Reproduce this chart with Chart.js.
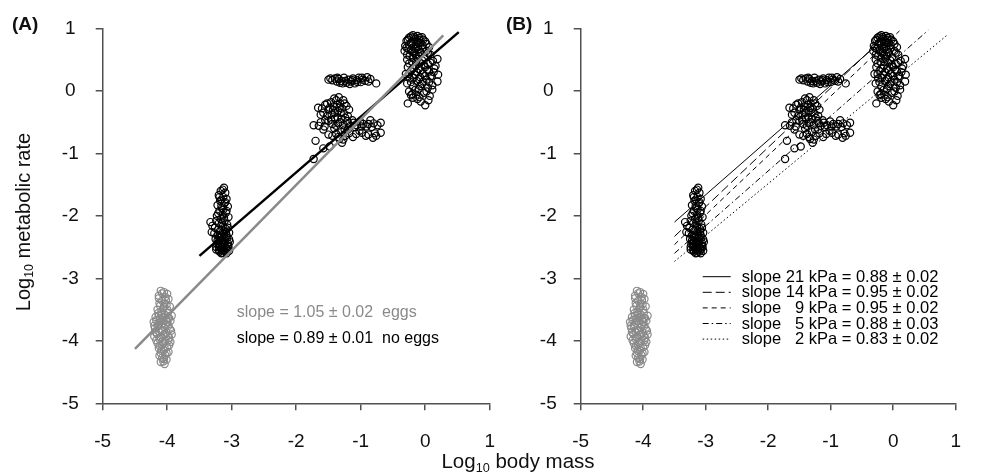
<!DOCTYPE html>
<html lang="en">
<head>
<meta charset="UTF-8">
<title>Log10 metabolic rate vs body mass</title>
<script src="https://cdn.jsdelivr.net/npm/chart.js@4"></script>
<style>
  * { margin: 0; padding: 0; box-sizing: border-box; }
  body { width: 981px; height: 473px; background: #fff; position: relative; overflow: hidden; font-family: 'Liberation Sans', Arial, sans-serif; color: #111; }
  canvas { position: absolute; top: 0; }
  #chartA { left: 0; }
  #chartB { left: 515px; }
  .panel { position: absolute; top: 13px; font-weight: bold; font-size: 19px; }
  .ytitle { position: absolute; left: 24px; top: 222px; transform: translate(-50%, -50%) rotate(-90deg); white-space: nowrap; font-size: 20px; }
  .xtitle { position: absolute; left: 518px; top: 462px; transform: translate(-50%, -50%); white-space: nowrap; font-size: 20.5px; }
  sub { font-size: 0.62em; vertical-align: -0.25em; }
</style>
</head>
<body>
<canvas id="chartA" width="515" height="473"></canvas>
<canvas id="chartB" width="466" height="473"></canvas>
<div class="panel" style="left:12px">(A)</div>
<div class="panel" style="left:506px">(B)</div>
<div class="ytitle">Log<sub>10</sub> metabolic rate</div>
<div class="xtitle">Log<sub>10</sub> body mass</div>
<script>
// axis ticks
const xTicks = [-5, -4, -3, -2, -1, 0, 1]
const yTicks = [-5, -4, -3, -2, -1, 0, 1]

// eggs (grey)
const eggs = [
  [-4.10,-3.20],[-4.05,-3.22],[-4.00,-3.25],[-4.13,-3.28],[-4.03,-3.30],[-3.98,-3.33],[-4.08,-3.36],
  [-4.12,-3.40],[-4.01,-3.42],[-3.96,-3.45],[-4.06,-3.48],[-4.15,-3.50],[-4.09,-3.53],[-3.99,-3.55],
  [-4.04,-3.58],[-3.93,-3.60],[-4.18,-3.62],[-4.11,-3.64],[-4.02,-3.66],[-4.21,-3.70],[-3.95,-3.68],
  [-4.07,-3.72],[-4.14,-3.74],[-3.98,-3.76],[-4.04,-3.79],[-4.19,-3.80],[-4.10,-3.83],[-3.94,-3.84],
  [-4.01,-3.87],[-4.16,-3.89],[-4.06,-3.91],[-4.20,-3.93],[-3.97,-3.95],[-4.12,-3.97],[-4.03,-4.00],
  [-3.95,-4.02],[-4.15,-4.04],[-4.08,-4.07],[-4.00,-4.10],[-4.13,-4.12],[-4.05,-4.15],[-3.98,-4.18],
  [-4.10,-4.20],[-4.03,-4.23],[-4.08,-4.27],[-4.01,-4.30],[-4.06,-4.33],[-4.04,-4.37],[-4.09,-3.58],
  [-4.00,-3.70],[-4.12,-3.86],[-3.99,-3.92],[-4.07,-4.01],[-4.17,-3.67],[-4.05,-3.45],
  [-4.08,-3.24],[-4.02,-3.35],[-4.11,-3.44],[-4.00,-3.50],[-4.14,-3.56],[-4.06,-3.62],[-3.97,-3.64],
  [-4.09,-3.68],[-4.15,-3.77],[-4.02,-3.74],[-3.96,-3.81],[-4.08,-3.85],[-4.18,-3.86],[-4.04,-3.89],
  [-3.93,-3.90],[-4.10,-3.95],[-4.17,-3.99],[-3.98,-3.99],[-4.06,-4.04],[-4.12,-4.08],[-3.97,-4.07],
  [-4.04,-4.12],[-4.09,-4.16],[-4.01,-4.20],[-4.12,-4.24],[-4.05,-4.29],[-4.10,-4.34],[-4.13,-3.32],
  [-4.04,-3.40],[-3.99,-3.63],[-4.20,-3.76],[-4.13,-3.60]
]

// no eggs, mass around -3
const groupM3 = [
  [-3.12,-1.55],[-3.17,-1.60],[-3.10,-1.63],[-3.20,-1.67],[-3.13,-1.70],[-3.08,-1.73],[-3.18,-1.76],
  [-3.11,-1.80],[-3.22,-1.83],[-3.06,-1.85],[-3.15,-1.88],[-3.19,-1.92],[-3.09,-1.95],[-3.14,-1.98],
  [-3.23,-2.00],[-3.05,-2.02],[-3.17,-2.05],[-3.11,-2.08],[-3.33,-2.10],[-3.20,-2.12],[-3.07,-2.14],
  [-3.14,-2.17],[-3.26,-2.19],[-3.09,-2.21],[-3.31,-2.26],[-3.18,-2.24],[-3.04,-2.27],[-3.12,-2.29],
  [-3.22,-2.31],[-3.15,-2.33],[-3.07,-2.35],[-3.25,-2.37],[-3.19,-2.39],[-3.10,-2.40],[-3.03,-2.42],
  [-3.16,-2.43],[-3.23,-2.45],[-3.13,-2.46],[-3.06,-2.48],[-3.20,-2.49],[-3.09,-2.51],[-3.17,-2.52],
  [-3.24,-2.54],[-3.12,-2.55],[-3.04,-2.56],[-3.19,-2.57],[-3.14,-2.59],[-3.08,-2.60],[-3.21,-2.44],
  [-3.15,-2.50],[-3.11,-2.36],[-3.18,-2.30],[-3.05,-2.50],[-3.27,-2.28],[-3.13,-1.90],[-3.16,-1.74],
  [-3.14,-1.58],[-3.19,-1.70],[-3.10,-1.78],[-3.16,-1.84],[-3.08,-1.92],[-3.21,-1.96],[-3.12,-2.03],
  [-3.24,-2.08],[-3.15,-2.11],[-3.30,-2.16],[-3.06,-2.19],[-3.21,-2.22],[-3.13,-2.25],[-3.08,-2.31],
  [-3.17,-2.35],[-3.22,-2.40],[-3.14,-2.41],[-3.06,-2.44],[-3.18,-2.47],[-3.11,-2.49],[-3.24,-2.50],
  [-3.15,-2.54],[-3.07,-2.53],[-3.20,-2.55],[-3.10,-2.57],[-3.16,-2.60],[-3.12,-2.42],[-3.19,-2.33],
  [-3.09,-2.26],[-3.04,-2.38]
]

// no eggs, mass around -1.3 (upper row)
const groupM1Upper = [
  [-1.50,0.18],[-1.44,0.17],[-1.40,0.20],[-1.37,0.15],[-1.34,0.19],[-1.30,0.16],[-1.26,0.21],[-1.22,0.13],
  [-1.19,0.18],[-1.15,0.15],[-1.12,0.20],[-1.09,0.12],[-1.06,0.17],[-1.03,0.21],[-1.00,0.14],[-0.97,0.18],
  [-0.93,0.16],[-0.90,0.22],[-0.85,0.19],[-0.76,0.12],[-1.17,0.11],[-1.28,0.12],
  [-1.47,0.20],[-1.32,0.13],[-1.24,0.16],[-1.13,0.17],[-1.05,0.14],[-0.98,0.21],[-0.88,0.15],[-1.36,0.21]
]

// no eggs, mass around -1.3 (main group)
const groupM1 = [
  [-1.66,-0.27],[-1.60,-0.28],[-1.55,-0.22],[-1.50,-0.30],[-1.46,-0.18],[-1.42,-0.25],[-1.38,-0.15],
  [-1.35,-0.32],[-1.32,-0.20],[-1.29,-0.28],[-1.26,-0.36],[-1.22,-0.24],[-1.18,-0.30],[-1.45,-0.38],
  [-1.40,-0.35],[-1.52,-0.40],[-1.36,-0.42],[-1.30,-0.45],[-1.25,-0.20],[-1.48,-0.27],[-1.34,-0.10],
  [-1.41,-0.12],[-1.58,-0.35],[-1.20,-0.40],
  [-1.73,-0.55],[-1.62,-0.50],[-1.56,-0.57],[-1.50,-0.48],[-1.44,-0.53],[-1.38,-0.56],[-1.32,-0.50],
  [-1.27,-0.54],[-1.21,-0.48],[-1.16,-0.56],[-1.11,-0.51],[-1.06,-0.55],[-1.01,-0.49],[-0.96,-0.53],
  [-0.91,-0.57],[-0.85,-0.47],[-0.80,-0.52],[-0.74,-0.55],[-0.69,-0.51],[-1.58,-0.62],[-1.25,-0.62],
  [-1.02,-0.64],
  [-1.50,-0.70],[-1.44,-0.72],[-1.38,-0.69],[-1.33,-0.77],[-1.29,-0.83],[-1.24,-0.72],[-1.18,-0.68],
  [-1.12,-0.74],[-1.07,-0.69],[-0.98,-0.67],[-0.88,-0.70],[-0.81,-0.75],[-0.78,-0.68],[-0.69,-0.67],
  [-1.27,-0.78],
  [-1.70,-0.80],[-1.58,-0.92],[-1.48,-0.89],[-1.73,-1.09],
  [-1.52,-0.20],[-1.43,-0.30],[-1.37,-0.22],[-1.31,-0.35],[-1.27,-0.15],[-1.40,-0.44],[-1.33,-0.27],
  [-1.46,-0.46],[-1.24,-0.43],[-1.55,-0.47],[-1.19,-0.52],[-1.09,-0.58],[-0.99,-0.57],[-0.88,-0.53],
  [-0.83,-0.58],[-1.13,-0.47],[-1.35,-0.52],[-1.41,-0.60],[-1.20,-0.62],[-1.30,-0.66],[-1.35,-0.74],
  [-0.92,-0.72],[-0.76,-0.72],[-1.62,-0.38],[-1.65,-0.56]
]

// no eggs, mass around 0
const group0 = [
  [-0.19,0.89],[-0.12,0.88],[-0.25,0.85],[-0.05,0.86],[-0.16,0.83],[-0.29,0.80],[-0.09,0.81],[0.00,0.79],
  [-0.22,0.77],[-0.14,0.75],[-0.31,0.72],[-0.04,0.73],[0.06,0.70],[-0.18,0.70],[-0.26,0.67],[-0.10,0.66],
  [0.02,0.64],[-0.20,0.62],[-0.32,0.64],[-0.07,0.60],[-0.15,0.58],[0.08,0.58],[-0.24,0.56],[-0.02,0.54],
  [-0.12,0.52],[0.19,0.51],[0.12,0.48],[-0.28,0.50],
  [-0.20,0.46],[-0.08,0.45],[0.04,0.43],[-0.15,0.40],[-0.27,0.38],[0.00,0.38],[0.14,0.36],[-0.10,0.35],
  [-0.22,0.32],[0.06,0.31],[-0.04,0.28],[-0.30,0.27],[-0.16,0.26],[0.20,0.26],[0.10,0.24],[-0.08,0.22],
  [0.08,0.23],[-0.24,0.20],[0.02,0.18],[-0.13,0.16],[0.19,0.15],[-0.28,0.12],[-0.05,0.11],[0.11,0.09],
  [-0.19,0.07],[0.04,0.05],[-0.10,0.03],[0.11,0.02],[-0.25,-0.01],[-0.02,-0.03],[-0.14,-0.06],[0.07,-0.08],
  [-0.19,-0.11],[-0.07,-0.17],[-0.27,-0.20],[0.00,-0.23],[-0.12,-0.13],[0.16,0.40],[-0.20,-0.05],[0.05,-0.15],
  [-0.22,0.87],[-0.09,0.85],[-0.17,0.86],[-0.27,0.82],[-0.03,0.82],[-0.12,0.79],[-0.20,0.79],[-0.07,0.77],
  [-0.25,0.74],[-0.11,0.71],[0.02,0.75],[-0.29,0.69],[-0.15,0.67],[-0.04,0.68],[-0.22,0.65],[-0.08,0.62],
  [-0.17,0.61],[-0.28,0.58],[0.04,0.61],[-0.10,0.56],[-0.19,0.53],[-0.05,0.49],[-0.14,0.47],[-0.25,0.44],
  [0.08,0.45],[-0.02,0.41],[-0.19,0.36],[-0.07,0.33],[0.03,0.34],[-0.13,0.30],[-0.25,0.27],[0.00,0.24],
  [-0.18,0.21],[-0.10,0.19],[0.06,0.14],[-0.22,0.14],[-0.08,0.08],[-0.15,0.02],[0.02,-0.01],[-0.22,-0.07],
  [-0.09,-0.10],[0.13,0.30],[-0.03,0.15]
]

// panel A fitted lines (end points)
const fitEggs = [[-4.5, -4.13], [0.28, 0.89]]
const fitNoEggs = [[-3.5, -2.64], [0.52, 0.94]]
const fitLabelsA = ['slope = 1.05 \u00b1 0.02  eggs', 'slope = 0.89 \u00b1 0.01  no eggs']

// panel B fitted lines per oxygen level
const fitLabelsB = [
  'slope 21 kPa = 0.88 \u00b1 0.02',
  'slope 14 kPa = 0.95 \u00b1 0.02',
  'slope   9 kPa = 0.95 \u00b1 0.02',
  'slope   5 kPa = 0.88 \u00b1 0.03',
  'slope   2 kPa = 0.83 \u00b1 0.02'
]
const fitsB = [
  [[-3.5, -2.10], [-0.30, 0.70]],
  [[-3.5, -2.33], [-0.05, 0.95]],
  [[-3.5, -2.46], [0.10, 0.96]],
  [[-3.5, -2.60], [0.56, 0.97]],
  [[-3.5, -2.73], [0.86, 0.89]]
]

const GREY = '#8a8a8a'
const AXIS = '#505050'
const dashesB = [[], [9, 4], [5, 4], [6, 3, 1.5, 3], [1.5, 2.5]]

const pts = arr => arr.map(([x, y]) => ({ x, y }))
const noEggs = [...groupM3, ...groupM1Upper, ...groupM1, ...group0]

const scatterSet = (data, color) => ({
  type: 'scatter', data: pts(data), borderColor: color, backgroundColor: 'rgba(0,0,0,0)',
  pointRadius: 3.6, pointBorderWidth: 1.2, pointHoverRadius: 3.6, order: 2
})
const lineSet = (data, color, width, dash) => ({
  type: 'line', data: pts(data), borderColor: color, borderWidth: width, borderDash: dash,
  pointRadius: 0, fill: false, showLine: true, order: 1
})

const tickFont = { size: 19, family: 'Liberation Sans' }

const makeScales = (yWidth) => ({
  x: {
    type: 'linear', min: -5, max: 1,
    afterBuildTicks: s => { s.ticks = xTicks.map(v => ({ value: v })) },
    afterFit: s => { s.height = 50 },
    grid: { display: true, drawOnChartArea: false, drawTicks: true, tickLength: 7, color: AXIS, lineWidth: 1.5 },
    border: { display: true, color: AXIS, width: 1.5 },
    ticks: { color: '#111', font: tickFont, padding: 20, maxRotation: 0 }
  },
  y: {
    type: 'linear', min: -5, max: 1,
    afterBuildTicks: s => { s.ticks = yTicks.map(v => ({ value: v })) },
    afterFit: s => { s.width = yWidth },
    grid: { display: true, drawOnChartArea: false, drawTicks: true, tickLength: 7, color: AXIS, lineWidth: 1.5 },
    border: { display: true, color: AXIS, width: 1.5 },
    ticks: { color: '#111', font: tickFont, padding: 17, crossAlign: 'center' }
  }
})

const baseOptions = (yWidth, padRight) => ({
  responsive: false, animation: false, events: [],
  layout: { padding: { left: 0, right: padRight, top: 25, bottom: 19.7 } },
  plugins: { legend: { display: false }, tooltip: { enabled: false } },
  scales: makeScales(yWidth)
})

const notesA = {
  id: 'notesA',
  afterDraw(chart) {
    const { ctx, chartArea: a } = chart
    ctx.save()
    ctx.font = '16px "Liberation Sans", Arial, sans-serif'
    ctx.textBaseline = 'alphabetic'
    ctx.fillStyle = GREY
    ctx.fillText(fitLabelsA[0], a.left + 134, 317)
    ctx.fillStyle = '#000'
    ctx.fillText(fitLabelsA[1], a.left + 134, 343)
    ctx.restore()
  }
}

const legendB = {
  id: 'legendB',
  afterDraw(chart) {
    const { ctx, chartArea: a } = chart
    ctx.save()
    ctx.font = '16.5px "Liberation Sans", Arial, sans-serif'
    ctx.textBaseline = 'alphabetic'
    ctx.fillStyle = '#000'
    ctx.strokeStyle = '#000'
    ctx.lineWidth = 1
    fitLabelsB.forEach((label, i) => {
      const y = 276.7 + i * 15.6
      ctx.setLineDash(dashesB[i])
      ctx.beginPath()
      ctx.moveTo(a.left + 122, y)
      ctx.lineTo(a.left + 150, y)
      ctx.stroke()
      ctx.fillText(label, a.left + 161, y + 5)
    })
    ctx.restore()
  }
}

new Chart(document.getElementById('chartA'), {
  data: {
    datasets: [
      lineSet(fitEggs, GREY, 2.5, []),
      lineSet(fitNoEggs, '#000', 2.5, []),
      scatterSet(eggs, GREY),
      scatterSet(noEggs, '#000')
    ]
  },
  options: baseOptions(102.7, 22.3),
  plugins: [notesA]
})

new Chart(document.getElementById('chartB'), {
  data: {
    datasets: [
      ...fitsB.map((f, i) => lineSet(f, '#000', 1, dashesB[i])),
      scatterSet(eggs, GREY),
      scatterSet(noEggs, '#000')
    ]
  },
  options: baseOptions(65.7, 10.3),
  plugins: [legendB]
})
</script>
</body>
</html>
